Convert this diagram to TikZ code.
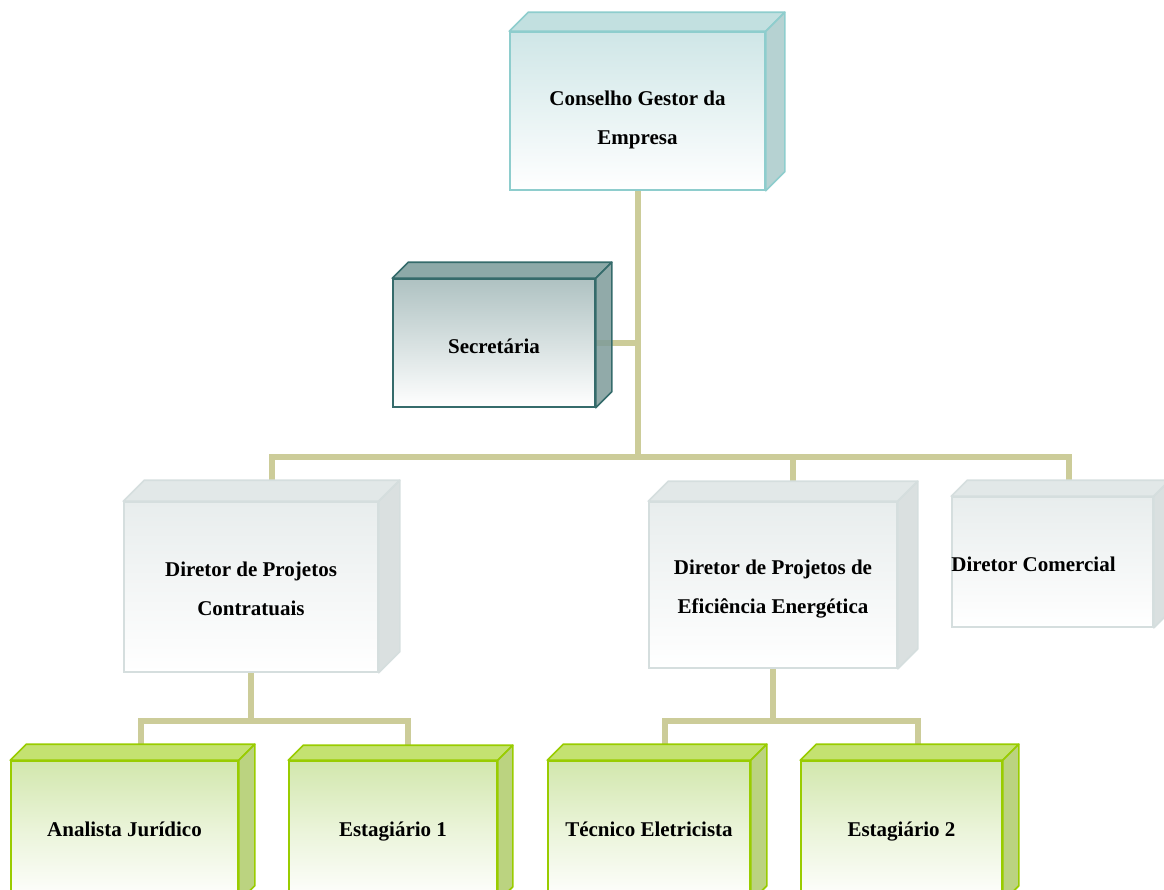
\documentclass[tikz,border=0pt]{standalone}
\usepackage{fontspec}
\setmainfont{Liberation Serif}
\usetikzlibrary{calc,backgrounds}
\definecolor{busc}{HTML}{CCCC99}
\definecolor{tealL}{HTML}{8ECDCD}
\definecolor{tealF}{HTML}{CFE6E7}
\definecolor{tealT}{HTML}{C2E0E0}
\definecolor{tealS}{HTML}{A9CACA}
\definecolor{darkL}{HTML}{356B6B}
\definecolor{darkF}{HTML}{AFC2C2}
\definecolor{darkT}{HTML}{8DA9A8}
\definecolor{darkS}{HTML}{7E9B9A}
\definecolor{grayL}{HTML}{D5DEDE}
\definecolor{grayF}{HTML}{E8EDED}
\definecolor{grayT}{HTML}{E2E8E8}
\definecolor{grayS}{HTML}{D3DBDB}
\definecolor{grnL}{HTML}{99CC00}
\definecolor{grnF}{HTML}{D2E7AD}
\definecolor{grnT}{HTML}{C4E271}
\definecolor{grnS}{HTML}{AFCB6A}
\newcommand\faces[5]{%
  \filldraw[fill=#3, draw=#5, line width=1.6pt, line join=round]
    (#1.north west) -- ++(#2,-#2) -- ($(#1.north east)+(#2,-#2)$) -- (#1.north east) -- cycle;
  \filldraw[fill=#4, fill opacity=0.85, draw=#5, line width=1.6pt, line join=round]
    (#1.north east) -- ++(#2,-#2) -- ($(#1.south east)+(#2,-#2)$) -- (#1.south east) -- cycle;
}
\begin{document}
\begin{tikzpicture}[x=1pt,y=-1pt,
  front/.style={inner sep=0pt, line width=1.6pt},
  txt/.style={inner sep=0pt, font=\fontsize{21}{39}\selectfont\bfseries, align=center},
  tealbox/.style={front, draw=tealL, top color=tealF, bottom color=white},
  darkbox/.style={front, draw=darkL, top color=darkF, bottom color=white},
  graybox/.style={front, draw=grayL, top color=grayF, bottom color=white},
  grnbox/.style={front, draw=grnL, top color=grnF, bottom color=white, middle color=grnF!45!white},
  bus/.style={draw=busc, line width=6pt, line join=miter}]
\clip (0,0) rectangle (1164,889);
\useasboundingbox (0,0) rectangle (1164,889);

\node[tealbox, minimum width=255pt, minimum height=158pt] (top) at (637.5,111) {};
\node[darkbox, minimum width=202pt, minimum height=128pt] (sec) at (494,343) {};
\node[graybox, minimum width=254pt, minimum height=170pt] (dc) at (251,587) {};
\node[graybox, minimum width=248pt, minimum height=166pt] (dee) at (773,585) {};
\node[graybox, minimum width=201pt, minimum height=130pt] (dcom) at (1052.5,562) {};
\node[grnbox, minimum width=227pt, minimum height=140pt] (an) at (124.5,831) {};
\node[grnbox, minimum width=208pt, minimum height=140pt] (e1) at (393,831) {};
\node[grnbox, minimum width=202pt, minimum height=140pt] (tec) at (649,831) {};
\node[grnbox, minimum width=201pt, minimum height=140pt] (e2) at (901.5,831) {};

\faces{top}{19}{tealT}{tealS}{tealL}
\faces{sec}{16}{darkT}{darkS}{darkL}
\faces{dc}{21}{grayT}{grayS}{grayL}
\faces{dee}{20}{grayT}{grayS}{grayL}
\faces{dcom}{16}{grayT}{grayS}{grayL}
\faces{an}{16}{grnT}{grnS}{grnL}
\faces{e1}{15}{grnT}{grnS}{grnL}
\faces{tec}{16}{grnT}{grnS}{grnL}
\faces{e2}{16}{grnT}{grnS}{grnL}

\node[txt] (top-t) at ($(top.center)+(0,9)$) {Conselho Gestor da\\Empresa};
\node[txt] (sec-t) at ($(sec.center)+(0,3)$) {Secretária};
\node[txt] (dc-t) at ($(dc.center)+(0,1.5)$) {Diretor de Projetos\\Contratuais};
\node[txt] (dee-t) at ($(dee.center)+(0,4)$) {Diretor de Projetos de\\Eficiência Energética};
\node[txt, anchor=west] (dcom-t) at ($(dcom.west)+(0,2)$) {Diretor Comercial};
\node[txt] (an-t) at ($(an.center)+(0,-2)$) {Analista Jurídico};
\node[txt] (e1-t) at ($(e1.center)+(0,1)$) {Estagiário 1};
\node[txt] (tec-t) at ($(tec.center)+(0,-2)$) {Técnico Eletricista};
\node[txt] (e2-t) at ($(e2.center)+(0,1)$) {Estagiário 2};

\coordinate (j) at (637.5,457);
\coordinate (jl) at (251,721);
\coordinate (jr) at (773,721);
\coordinate (dc-b) at ($(dc.north)+(21,0)$);
\coordinate (dee-b) at ($(dee.north)+(20,0)$);
\coordinate (dcom-b) at ($(dcom.north)+(16,0)$);
\coordinate (an-b) at ($(an.north)+(16,0)$);
\coordinate (e1-b) at ($(e1.north)+(15,0)$);
\coordinate (tec-b) at ($(tec.north)+(16,0)$);
\coordinate (e2-b) at ($(e2.north)+(16,0)$);

\begin{pgfonlayer}{background}
  \draw[bus] (top.south) -- (top.south |- j);
  \draw[bus] (sec.east) -- (sec.east -| top.south);
  \draw[bus] (dc-b) -- (dc-b |- j) -- (dcom-b |- j) -- (dcom-b);
  \draw[bus] (dee-b |- j) -- (dee-b);
  \draw[bus] (dc.south) -- (dc.south |- jl);
  \draw[bus] (an-b) -- (an-b |- jl) -- (e1-b |- jl) -- (e1-b);
  \draw[bus] (dee.south) -- (dee.south |- jr);
  \draw[bus] (tec-b) -- (tec-b |- jr) -- (e2-b |- jr) -- (e2-b);
\end{pgfonlayer}
\end{tikzpicture}
\end{document}
